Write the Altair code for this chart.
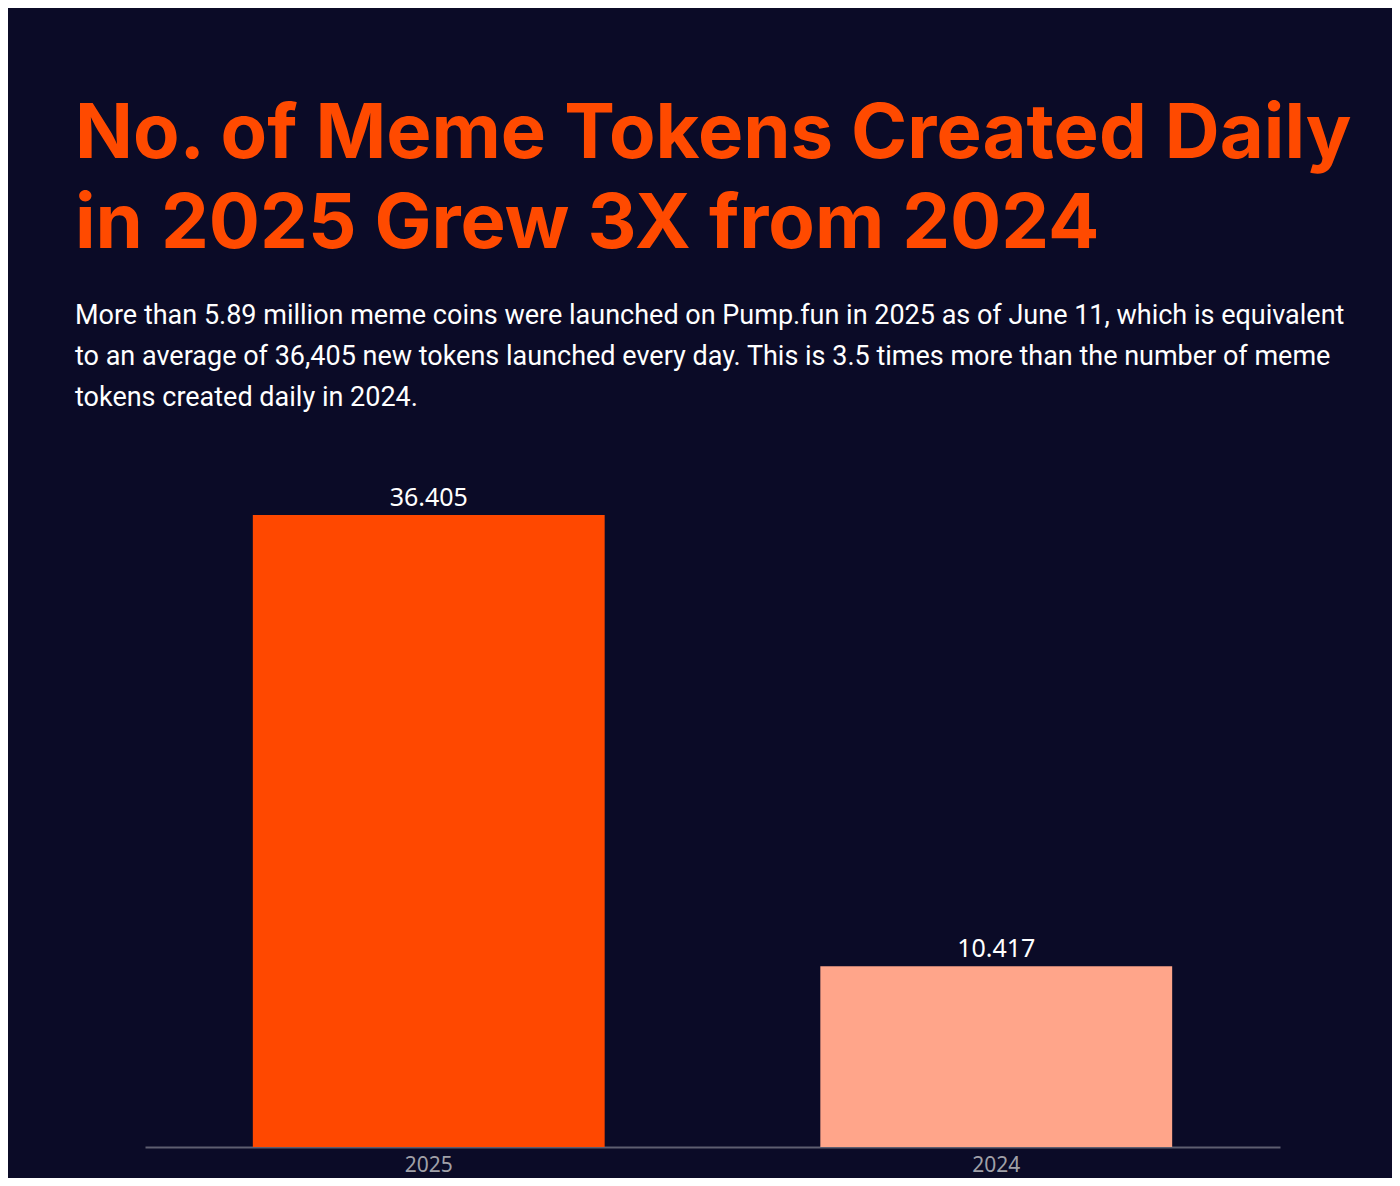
import altair as alt
import pandas as pd

years = ["2025", "2024"]
daily_tokens = [36405, 10417]
bar_colors = ["#FF4800", "#FFA58A"]

title_lines = ["No. of Meme Tokens Created Daily", "in 2025 Grew 3X from 2024"]
subtitle_lines = [
    "More than 5.89 million meme coins were launched on Pump.fun in 2025 as of June 11, which is equivalent",
    "to an average of 36,405 new tokens launched every day. This is 3.5 times more than the number of meme",
    "tokens created daily in 2024.",
]

df = pd.DataFrame({
    "year": years,
    "tokens": daily_tokens,
    "label": [f"{v:,}".replace(",", ".") for v in daily_tokens],
})

x = alt.X("year:N", sort=years, title=None,
          scale=alt.Scale(paddingInner=0.38, paddingOuter=0.19),
          axis=alt.Axis(labelAngle=0, ticks=False, domainColor="#5E5E70", domainWidth=2,
                        labelColor="#A0A0A8", labelFont="Noto Sans", labelFontSize=21,
                        labelPadding=7, labelBaseline="top", grid=False))
y = alt.Y("tokens:Q", title=None, scale=alt.Scale(domain=[0, 36405], nice=False),
          axis=None)

bars = alt.Chart(df).mark_bar().encode(
    x=x, y=y,
    color=alt.Color("year:N", scale=alt.Scale(domain=years, range=bar_colors), legend=None),
)
labels = alt.Chart(df).mark_text(
    baseline="alphabetic", dy=-9, color="#FFFFFF", font="Noto Sans", fontSize=25
).encode(x=x, y=y, text="label:N")

chart = alt.layer(bars, labels).properties(
    width=1135,
    height=632,
    autosize=alt.AutoSizeParams(type="none"),
    padding={"left": 137, "top": 507, "right": 112, "bottom": 31},
    background="#0B0B27",
    title=alt.TitleParams(
        text=title_lines,
        subtitle=subtitle_lines,
        anchor="start",
        frame="group",
        dx=-70,
        offset=74,
        font="Inter",
        fontSize=76,
        fontWeight="bold",
        color="#FF4A00",
        lineHeight=90,
        subtitleFont="Roboto",
        subtitleFontSize=27,
        subtitleColor="#FFFFFF",
        subtitleLineHeight=41,
        subtitlePadding=39,
    ),
).configure_view(stroke=None)

chart.save("out.html", embed_options={"renderer": "svg", "actions": False})
